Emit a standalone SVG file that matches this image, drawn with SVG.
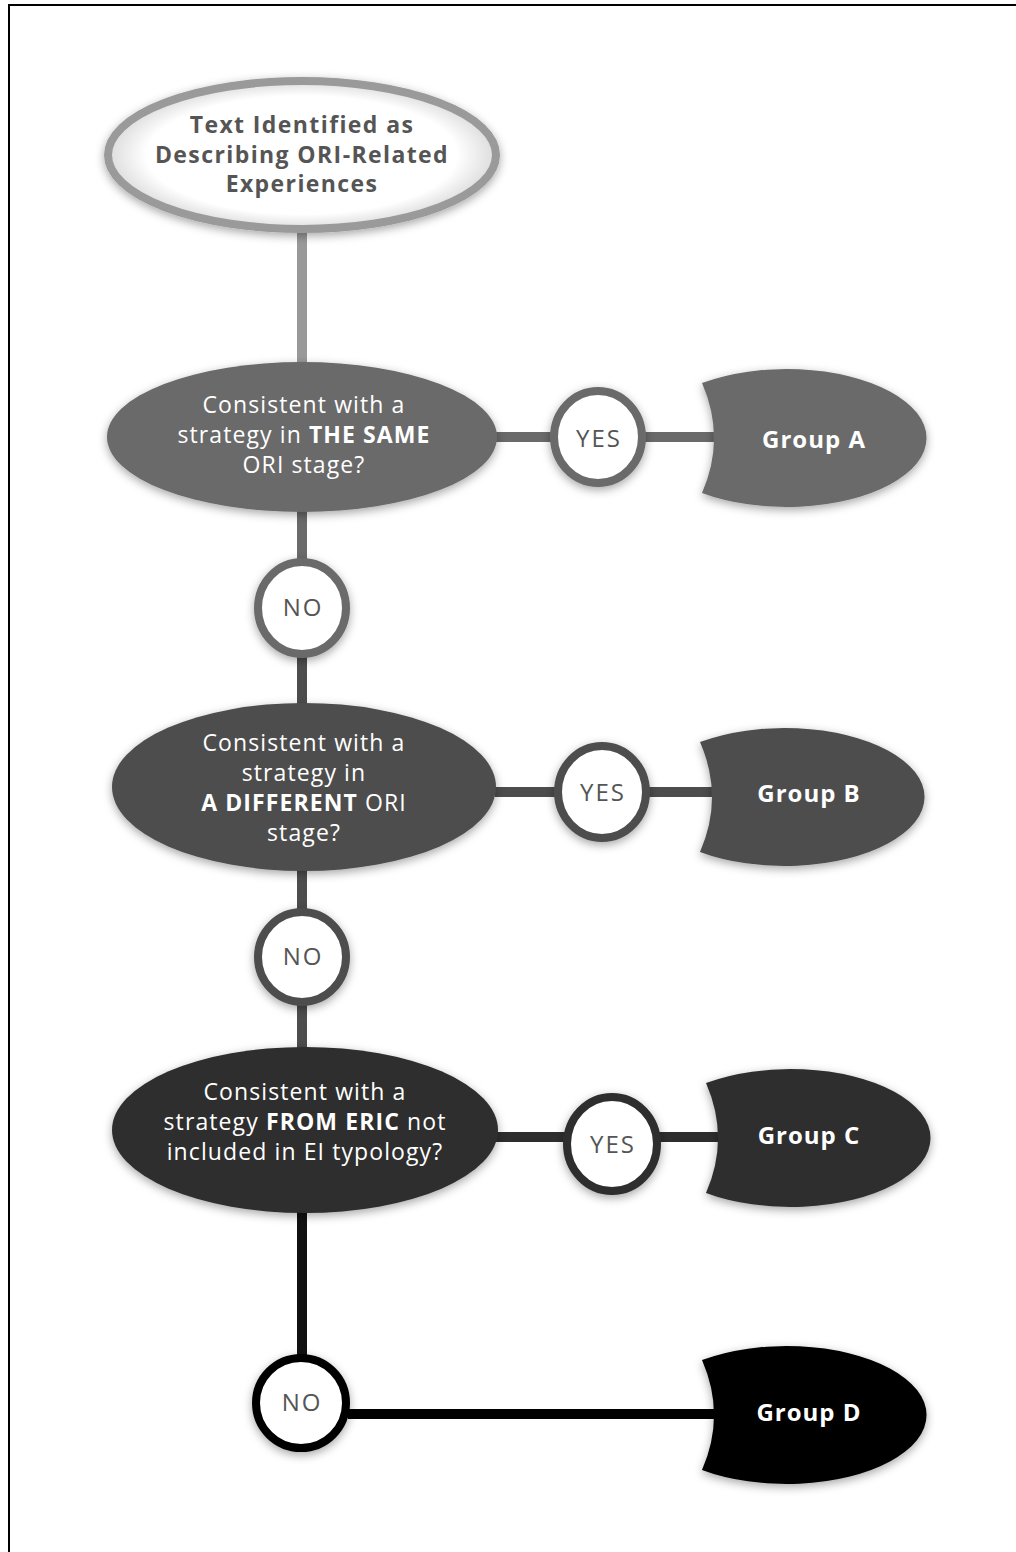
<svg xmlns="http://www.w3.org/2000/svg" width="1016" height="1552" viewBox="0 0 1016 1552">
  <style>
    text { font-family: "Open Sans", "Liberation Sans", sans-serif; text-anchor: middle; }
    .top { font-size: 23px; font-weight: 700; fill: #555555; letter-spacing: 1.4px; }
    .q { font-size: 23px; font-weight: 400; fill: #ffffff; letter-spacing: 1.1px; }
    .b { font-weight: 700; }
    .lbl { font-size: 24px; font-weight: 400; fill: #555555; letter-spacing: 2px; }
    .grp { font-size: 24px; font-weight: 700; fill: #ffffff; letter-spacing: 1px; }
    .conn line { stroke-width: 10; }
    .ring { fill: #ffffff; stroke-width: 8; }
  </style>
  <defs>
    <filter id="sh" x="-20%" y="-20%" width="140%" height="150%">
      <feDropShadow dx="0" dy="3" stdDeviation="5" flood-color="#000000" flood-opacity="0.35"/>
    </filter>
    <radialGradient id="glow" cx="50%" cy="50%" r="50%">
      <stop offset="0.8" stop-color="#ffffff"/>
      <stop offset="1" stop-color="#dcdcdc"/>
    </radialGradient>
    <path id="lobe" d="M-88,-55 A140,69 0 1 1 -88,55 Q-64,0 -88,-55 Z"/>
  </defs>
  <rect width="1016" height="1552" fill="#ffffff"/>
  <path d="M9,1552 V5 H1016" fill="none" stroke="#000000" stroke-width="2"/>

  <g id="connectors" class="conn">
    <line x1="302" y1="230" x2="302" y2="366" stroke="#999999"/>
    <line x1="495" y1="437" x2="722" y2="437" stroke="#6a6a6a"/>
    <line x1="302" y1="510" x2="302" y2="562" stroke="#6a6a6a"/>
    <line x1="302" y1="654" x2="302" y2="706" stroke="#4d4d4d"/>
    <line x1="495" y1="792" x2="720" y2="792" stroke="#4d4d4d"/>
    <line x1="302" y1="870" x2="302" y2="912" stroke="#4d4d4d"/>
    <line x1="302" y1="1002" x2="302" y2="1050" stroke="#4d4d4d"/>
    <line x1="496" y1="1137" x2="726" y2="1137" stroke="#2e2e2e"/>
    <line x1="302" y1="1210" x2="302" y2="1358" stroke="#111111"/>
    <line x1="348" y1="1414" x2="722" y2="1414" stroke="#000000"/>
  </g>

  <g id="start">
    <ellipse cx="302" cy="155" rx="194" ry="74" fill="url(#glow)" stroke="#9a9a9a" stroke-width="8" filter="url(#sh)"/>
    <text class="top" x="302" y="133">Text Identified as</text>
    <text class="top" x="302" y="163">Describing ORI-Related</text>
    <text class="top" x="302" y="192">Experiences</text>
  </g>

  <g id="q1">
    <ellipse cx="302" cy="437" rx="195" ry="75" fill="#6a6a6a" filter="url(#sh)"/>
    <text class="q" x="304" y="413">Consistent with a</text>
    <text class="q" x="304" y="443">strategy in <tspan class="b">THE SAME</tspan></text>
    <text class="q" x="304" y="473">ORI stage?</text>
  </g>

  <g id="yes1">
    <ellipse class="ring" cx="598" cy="437" rx="44" ry="46" stroke="#6a6a6a" filter="url(#sh)"/>
    <text class="lbl" x="599" y="447">YES</text>
  </g>

  <g id="groupA">
    <use href="#lobe" transform="translate(790,438)" fill="#6a6a6a" filter="url(#sh)"/>
    <text class="grp" x="814" y="448">Group A</text>
  </g>

  <g id="no1">
    <ellipse class="ring" cx="302" cy="608" rx="44" ry="46" stroke="#6a6a6a" filter="url(#sh)"/>
    <text class="lbl" x="303" y="616">NO</text>
  </g>

  <g id="q2">
    <ellipse cx="304" cy="787" rx="192" ry="84" fill="#4d4d4d" filter="url(#sh)"/>
    <text class="q" x="304" y="751">Consistent with a</text>
    <text class="q" x="304" y="781">strategy in</text>
    <text class="q" x="304" y="811"><tspan class="b">A DIFFERENT</tspan> ORI</text>
    <text class="q" x="304" y="841">stage?</text>
  </g>

  <g id="yes2">
    <ellipse class="ring" cx="602" cy="792" rx="44" ry="46" stroke="#4d4d4d" filter="url(#sh)"/>
    <text class="lbl" x="603" y="801">YES</text>
  </g>

  <g id="groupB">
    <use href="#lobe" transform="translate(788,797)" fill="#4d4d4d" filter="url(#sh)"/>
    <text class="grp" x="809" y="802">Group B</text>
  </g>

  <g id="no2">
    <ellipse class="ring" cx="302" cy="957" rx="44" ry="45" stroke="#4d4d4d" filter="url(#sh)"/>
    <text class="lbl" x="303" y="965">NO</text>
  </g>

  <g id="q3">
    <ellipse cx="305" cy="1130" rx="193" ry="83" fill="#2e2e2e" filter="url(#sh)"/>
    <text class="q" x="305" y="1100">Consistent with a</text>
    <text class="q" x="305" y="1130">strategy <tspan class="b">FROM ERIC</tspan> not</text>
    <text class="q" x="305" y="1160">included in EI typology?</text>
  </g>

  <g id="yes3">
    <ellipse class="ring" cx="612" cy="1144" rx="45" ry="47" stroke="#2e2e2e" filter="url(#sh)"/>
    <text class="lbl" x="613" y="1153">YES</text>
  </g>

  <g id="groupC">
    <use href="#lobe" transform="translate(794,1138)" fill="#2e2e2e" filter="url(#sh)"/>
    <text class="grp" x="809" y="1144">Group C</text>
  </g>

  <g id="no3">
    <ellipse class="ring" cx="301" cy="1403" rx="45" ry="45" stroke="#000000" stroke-width="9" filter="url(#sh)"/>
    <text class="lbl" x="302" y="1411">NO</text>
  </g>

  <g id="groupD">
    <use href="#lobe" transform="translate(790,1415)" fill="#000000" filter="url(#sh)"/>
    <text class="grp" x="809" y="1421">Group D</text>
  </g>
</svg>
